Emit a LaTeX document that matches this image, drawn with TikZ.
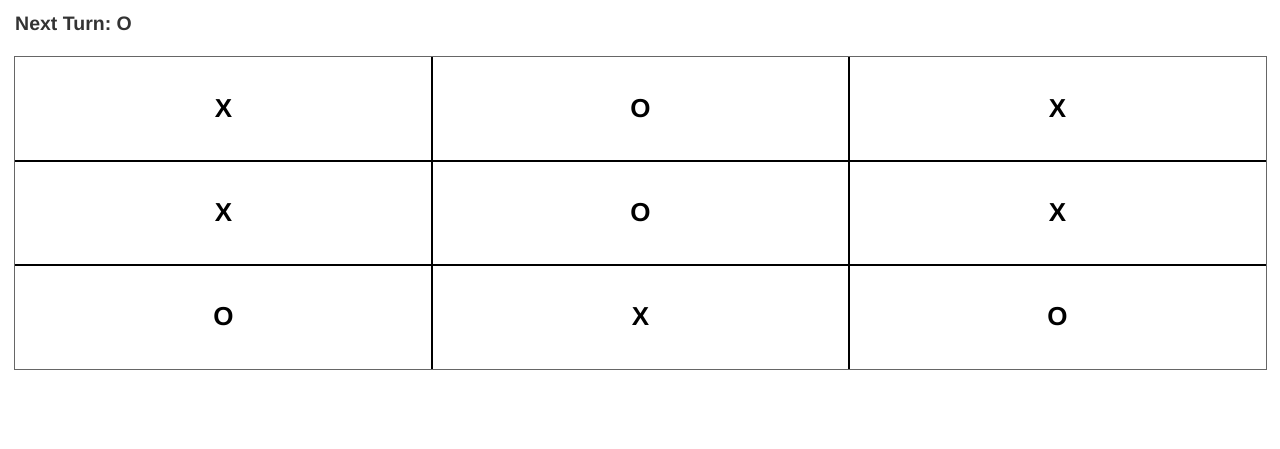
\documentclass[tikz,border=0pt]{standalone}
\usepackage{fontspec}
\setmainfont{Liberation Sans}
\frenchspacing
\definecolor{titlegray}{HTML}{333333}
\definecolor{bordergray}{HTML}{666666}
\begin{document}
\begin{tikzpicture}[x=1pt,y=-1pt,
  cell/.style={minimum width=417pt, minimum height=104pt, inner sep=0pt, anchor=center, font=\fontsize{26}{26}\selectfont\bfseries},
  title/.style={anchor=base west, inner sep=0pt, text=titlegray, font=\fontsize{19.5}{19.5}\selectfont\bfseries},
  gridline/.style={draw=black, line width=1.5pt},
  outer/.style={draw=bordergray, line width=1pt}]
\useasboundingbox (0,0) rectangle (1280,449);
\node[title] (turn) at (15,31) {Next Turn: O};
\node[cell] (c11) at (223.5,109) {X};
\node[cell] (c12) at (640.5,109) {O};
\node[cell] (c13) at (1057.5,109) {X};
\node[cell] (c21) at (223.5,213) {X};
\node[cell] (c22) at (640.5,213) {O};
\node[cell] (c23) at (1057.5,213) {X};
\node[cell] (c31) at (223.5,317) {O};
\node[cell] (c32) at (640.5,317) {X};
\node[cell] (c33) at (1057.5,317) {O};
\draw[gridline] (c11.north east) -- (c31.south east);
\draw[gridline] (c12.north east) -- (c32.south east);
\draw[gridline] (c11.south west) -- (c13.south east);
\draw[gridline] (c21.south west) -- (c23.south east);
\draw[outer] (c11.north west) rectangle (c33.south east);
\end{tikzpicture}
\end{document}
